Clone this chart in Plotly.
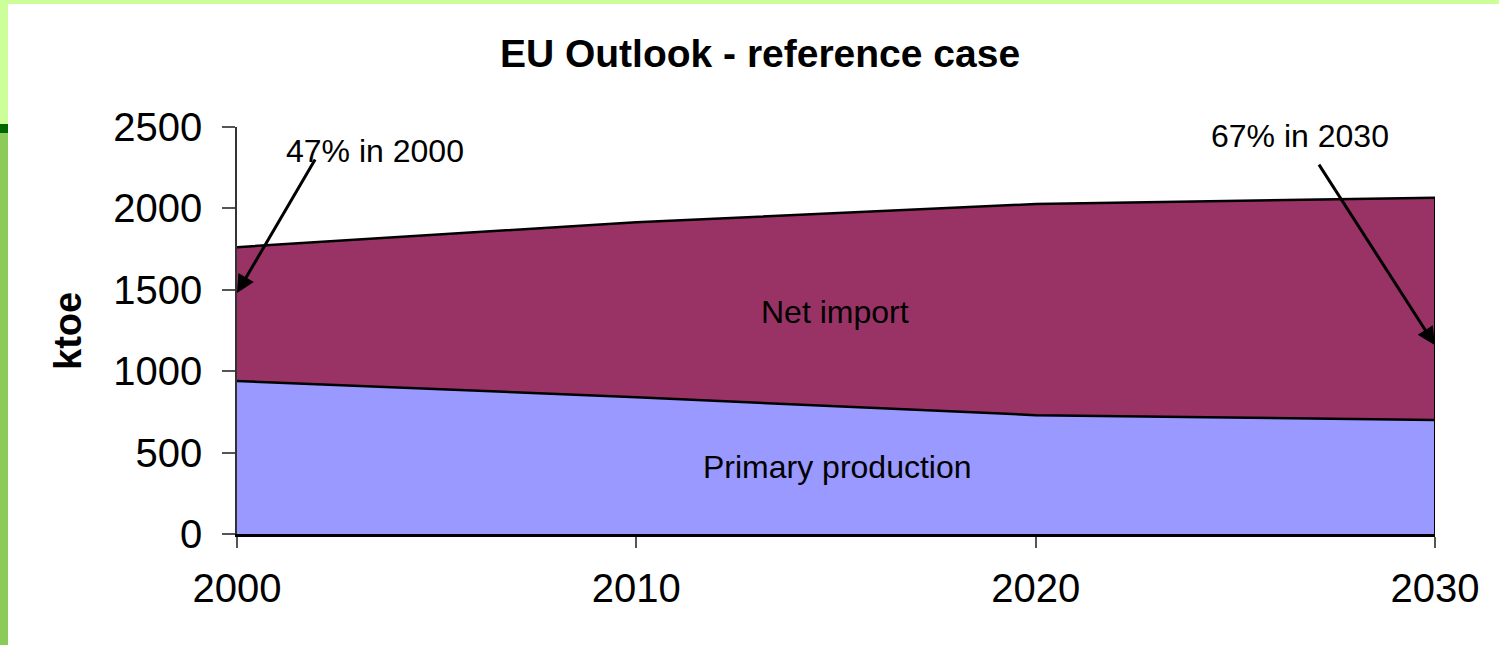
import plotly.graph_objects as go

years = [2000, 2010, 2020, 2030]
primary_production = [940, 840, 730, 700]
net_import = [822, 1075, 1297, 1365]
y_ticks = [0, 500, 1000, 1500, 2000, 2500]

total = [p + n for p, n in zip(primary_production, net_import)]

W, H = 1499, 645
L, R, T, B = 237, 64, 127, 111
pw, ph = W - L - R, H - T - B


def px(x):
    return (x - L) / pw


def py(y):
    return (H - B - y) / ph


FONT = "Liberation Sans, Arial, sans-serif"

fig = go.Figure()
fig.add_trace(go.Scatter(
    x=years, y=primary_production, name="Primary production",
    stackgroup="one", mode="lines",
    line=dict(color="black", width=2.5),
    fillcolor="#9999FF", hoverinfo="skip"))
fig.add_trace(go.Scatter(
    x=years, y=net_import, name="Net import",
    stackgroup="one", mode="lines",
    line=dict(color="black", width=2.5),
    fillcolor="#993366", hoverinfo="skip"))

shapes = [
    # right edge of stacked areas
    dict(type="line", xref="x", yref="y", x0=years[-1], x1=years[-1],
         y0=0, y1=total[-1], line=dict(color="black", width=2)),
    # slide decoration
    dict(type="rect", xref="paper", yref="paper", x0=px(0), x1=px(W),
         y0=py(0), y1=py(4), fillcolor="#CCFF99", line_width=0, layer="below"),
    dict(type="rect", xref="paper", yref="paper", x0=px(0), x1=px(8),
         y0=py(0), y1=py(124), fillcolor="#CCFF99", line_width=0, layer="below"),
    dict(type="rect", xref="paper", yref="paper", x0=px(0), x1=px(8),
         y0=py(124), y1=py(133), fillcolor="#006600", line_width=0, layer="below"),
    dict(type="rect", xref="paper", yref="paper", x0=px(0), x1=px(8),
         y0=py(133), y1=py(H), fillcolor="#8CCB5A", line_width=0, layer="below"),
]

txt = dict(size=32, color="black", family=FONT)
annotations = [
    dict(text="Net import", xref="paper", yref="paper", x=px(835), y=py(312),
         xanchor="center", yanchor="middle", showarrow=False, font=txt),
    dict(text="Primary production", xref="paper", yref="paper", x=px(837), y=py(467),
         xanchor="center", yanchor="middle", showarrow=False, font=txt),
    dict(text="47% in 2000", xref="paper", yref="paper", x=px(375), y=py(151),
         xanchor="center", yanchor="middle", showarrow=False, font=txt),
    dict(text="67% in 2030", xref="paper", yref="paper", x=px(1300), y=py(136),
         xanchor="center", yanchor="middle", showarrow=False, font=txt),
    dict(text="<b>ktoe</b>", xref="paper", yref="paper", x=px(68), y=py(331),
         xanchor="center", yanchor="middle", textangle=-90, showarrow=False,
         font=dict(size=38, color="black", family=FONT)),
    # arrows
    dict(text="", x=years[0], y=1480, xref="x", yref="y",
         ax=317 - 238, ay=158 - 293, showarrow=True,
         arrowhead=2, arrowsize=1.2, arrowwidth=3, arrowcolor="black", standoff=0),
    dict(text="", x=years[-1], y=1160, xref="x", yref="y",
         ax=1315 - 1432, ay=163 - 345, showarrow=True,
         arrowhead=2, arrowsize=1.2, arrowwidth=3, arrowcolor="black", standoff=0),
]

fig.update_layout(
    width=W, height=H,
    margin=dict(l=L, r=R, t=T, b=B, pad=0),
    paper_bgcolor="white", plot_bgcolor="white",
    showlegend=False,
    title=dict(text="<b>EU Outlook - reference case</b>", xref="container",
               x=760 / W, xanchor="center",
               y=1 - 53 / H, yanchor="middle",
               font=dict(size=39, color="black", family=FONT)),
    font=dict(family=FONT, color="black"),
    xaxis=dict(range=[years[0], years[-1]], tickvals=years,
               ticks="outside", ticklen=11, tickwidth=1.5, tickcolor="#555555",
               ticklabelstandoff=6,
               showline=True, linecolor="black", linewidth=3,
               showgrid=False, zeroline=False,
               tickfont=dict(size=40, family=FONT, color="black")),
    yaxis=dict(range=[0, 2500], tickvals=y_ticks,
               ticks="outside", ticklen=13, tickwidth=1.5, tickcolor="#555555",
               ticklabelstandoff=12,
               showline=True, linecolor="#333333", linewidth=1.5,
               showgrid=False, zeroline=False,
               tickfont=dict(size=40, family=FONT, color="black")),
    shapes=shapes,
    annotations=annotations,
)

fig.write_html(
    "out.html",
    config={"displayModeBar": False},
    post_script="document.body.style.margin='0';document.body.style.padding='0';",
)
